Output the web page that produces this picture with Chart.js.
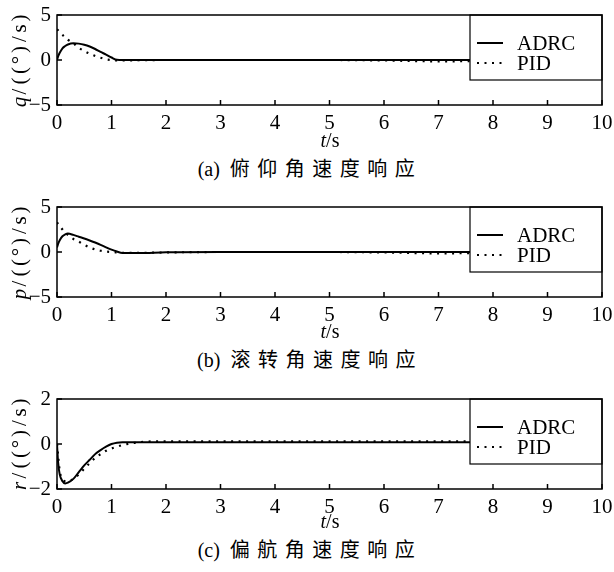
<!DOCTYPE html>
<html>
<head>
<meta charset="utf-8">
<script src="https://cdn.jsdelivr.net/npm/chart.js@4"></script>
<style>
  body { margin: 0; background: #fff; width: 614px; height: 572px; position: relative; overflow: hidden; }
  .panel { position: absolute; left: 0; width: 614px; height: 140px; }
  .xlab { position: absolute; left: 310px; width: 40px; text-align: center; font: 20px "Liberation Serif", serif; color: #000; }
  .cap { position: absolute; left: 0; width: 620px; text-align: center; font: 20px "Liberation Serif", serif; color: #000; }
  .cap span { font-family: "Noto Sans CJK SC", sans-serif; font-size: 20px; letter-spacing: 7.5px; }
</style>
</head>
<body>
<div class="panel" style="top:0"><canvas id="chartQ"></canvas></div>
<div class="xlab" style="top:129px"><i>t</i>/s</div>
<div class="cap" style="top:153px">(a)&nbsp; <span>俯仰角速度响应</span></div>

<div class="panel" style="top:192px"><canvas id="chartP"></canvas></div>
<div class="xlab" style="top:320px"><i>t</i>/s</div>
<div class="cap" style="top:344px">(b)&nbsp; <span>滚转角速度响应</span></div>

<div class="panel" style="top:384px"><canvas id="chartR"></canvas></div>
<div class="xlab" style="top:510px"><i>t</i>/s</div>
<div class="cap" style="top:534px">(c)&nbsp; <span>偏航角速度响应</span></div>

<script>
// time samples (s)
const time = [0, 0.02, 0.05, 0.1, 0.15, 0.2, 0.3, 0.4, 0.5, 0.6, 0.7, 0.8, 0.9, 1.0, 1.1, 1.2, 1.5, 2, 3, 4, 5, 6, 7, 8, 9, 10];

// pitch rate q
const adrcQ = [0, 0.4, 0.8, 1.3, 1.55, 1.72, 1.85, 1.82, 1.7, 1.5, 1.22, 0.9, 0.6, 0.28, 0.02, 0, 0, 0, 0, 0, 0, 0, 0, 0, 0, 0];
const pidQ  = [3.4, 3.3, 3.1, 2.8, 2.5, 2.25, 1.85, 1.35, 1.0, 0.7, 0.45, 0.25, 0.08, 0, -0.05, -0.05, -0.03, 0, 0, 0, 0, -0.05, -0.15, -0.1, -0.05, 0];

// roll rate p
const adrcP = [0.5, 0.9, 1.3, 1.75, 1.95, 2.05, 1.9, 1.7, 1.5, 1.28, 1.05, 0.8, 0.52, 0.26, 0.05, -0.1, -0.12, -0.03, 0, 0, 0, 0, 0, 0, 0, 0];
const pidP  = [3.3, 3.1, 2.9, 2.5, 2.15, 1.9, 1.45, 1.15, 0.8, 0.5, 0.28, 0.14, 0.05, 0, -0.05, -0.1, -0.1, -0.05, 0, 0, 0, -0.05, -0.15, -0.1, -0.05, 0];

// yaw rate r
const adrcR = [0, -0.8, -1.35, -1.65, -1.75, -1.72, -1.55, -1.25, -0.95, -0.7, -0.45, -0.27, -0.12, 0.0, 0.06, 0.08, 0.08, 0.08, 0.08, 0.08, 0.08, 0.08, 0.08, 0.08, 0.08, 0.08];
const pidR  = [0, -0.5, -1.2, -1.55, -1.65, -1.65, -1.55, -1.35, -1.1, -0.85, -0.62, -0.45, -0.3, -0.2, -0.12, -0.05, 0.08, 0.12, 0.12, 0.12, 0.12, 0.12, 0.12, 0.12, 0.12, 0.12];

const xTicks = [0, 1, 2, 3, 4, 5, 6, 7, 8, 9, 10];
const seriesNames = ['ADRC', 'PID'];

const serif = '"Liberation Serif", "Times New Roman", serif';

// frame, inward ticks, legend box and y label
const framePlugin = {
    id: 'frame',
    afterDraw(chart, args, opts) {
        const ctx = chart.ctx;
        const a = chart.chartArea;
        const xs = chart.scales.x, ys = chart.scales.y;
        ctx.save();
        ctx.strokeStyle = '#000';
        ctx.lineWidth = 1.5;
        // inward ticks
        ctx.beginPath();
        xs.ticks.forEach(t => {
            const px = xs.getPixelForValue(t.value);
            ctx.moveTo(px, a.bottom);
            ctx.lineTo(px, a.bottom - 5);
        });
        ys.ticks.forEach(t => {
            const py = ys.getPixelForValue(t.value);
            ctx.moveTo(a.left, py);
            ctx.lineTo(a.left + 5, py);
        });
        ctx.stroke();

        // legend
        const lw = 132, lh = 65;
        const lx = a.right - lw, ly = a.top;
        ctx.fillStyle = '#fff';
        ctx.fillRect(lx, ly, lw, lh);
        ctx.lineWidth = 1.2;
        ctx.strokeRect(lx, ly, lw, lh);
        chart.data.datasets.forEach((ds, i) => {
            const yy = ly + 28 + i * 20;
            ctx.beginPath();
            ctx.lineWidth = 2;
            ctx.setLineDash(ds.borderDash || []);
            ctx.moveTo(lx + 7, yy);
            ctx.lineTo(lx + 33, yy);
            ctx.stroke();
            ctx.setLineDash([]);
            ctx.fillStyle = '#000';
            ctx.font = '21px ' + serif;
            ctx.textBaseline = 'middle';
            ctx.fillText(ds.label, lx + 47, yy + 1);
        });

        // frame
        ctx.lineWidth = 1.5;
        ctx.strokeRect(a.left, a.top, a.right - a.left, a.bottom - a.top);

        // y axis title, drawn char by char in half-width cells
        const chars = opts.label.split('');
        const cell = 10.5;
        const cy = (a.top + a.bottom) / 2;
        ctx.translate(20, cy);
        ctx.rotate(-Math.PI / 2);
        ctx.fillStyle = '#000';
        ctx.textAlign = 'center';
        ctx.textBaseline = 'middle';
        let x0 = -chars.length * cell / 2 + cell / 2;
        chars.forEach((c, i) => {
            ctx.font = (i === 0 ? 'italic ' : '') + '21px ' + serif;
            ctx.fillText(c, x0 + i * cell, 0);
        });
        ctx.restore();
    }
};

function makePanel(id, adrc, pid, yMin, yMax, yStep, label) {
    const ctx = document.getElementById(id).getContext('2d');
    return new Chart(ctx, {
        type: 'line',
        data: {
            datasets: [{
                label: seriesNames[0],
                data: time.map((t, i) => ({ x: t, y: adrc[i] })),
                borderColor: '#000',
                borderWidth: 2,
                pointRadius: 0,
                cubicInterpolationMode: 'monotone'
            }, {
                label: seriesNames[1],
                data: time.map((t, i) => ({ x: t, y: pid[i] })),
                borderColor: '#000',
                borderWidth: 2.2,
                borderDash: [2, 5.5],
                pointRadius: 0,
                cubicInterpolationMode: 'monotone'
            }]
        },
        options: {
            responsive: false,
            animation: false,
            layout: { padding: { top: 15, right: 12, left: 0, bottom: 0 } },
            scales: {
                x: {
                    type: 'linear',
                    min: 0,
                    max: 10,
                    afterBuildTicks: s => { s.ticks = xTicks.map(v => ({ value: v })); },
                    afterFit: s => { s.height = 35; s.paddingLeft = 0; s.paddingRight = 0; },
                    grid: { display: false, drawTicks: false },
                    border: { display: false },
                    ticks: { color: '#000', padding: 6, maxRotation: 0, font: { family: serif, size: 21 } }
                },
                y: {
                    min: yMin,
                    max: yMax,
                    afterFit: s => { s.width = 57; s.paddingTop = 0; s.paddingBottom = 0; },
                    grid: { display: false, drawTicks: false },
                    border: { display: false },
                    ticks: {
                        stepSize: yStep,
                        color: '#000',
                        padding: 6,
                        font: { family: serif, size: 21 },
                        callback: v => String(v).replace('-', '\u2212')
                    }
                }
            },
            plugins: {
                legend: { display: false },
                tooltip: { enabled: false },
                frame: { label: label }
            }
        },
        plugins: [framePlugin]
    });
}

document.querySelectorAll('canvas').forEach(c => { c.width = 614; c.height = 140; });

Promise.all([
    document.fonts.load('21px "Liberation Serif"'),
    document.fonts.load('italic 21px "Liberation Serif"')
]).catch(() => {}).then(() => {
    makePanel('chartQ', adrcQ, pidQ, -5, 5, 5, 'q/((°)/s)');
    makePanel('chartP', adrcP, pidP, -5, 5, 5, 'p/((°)/s)');
    makePanel('chartR', adrcR, pidR, -2, 2, 2, 'r/((°)/s)');
});
</script>
</body>
</html>
